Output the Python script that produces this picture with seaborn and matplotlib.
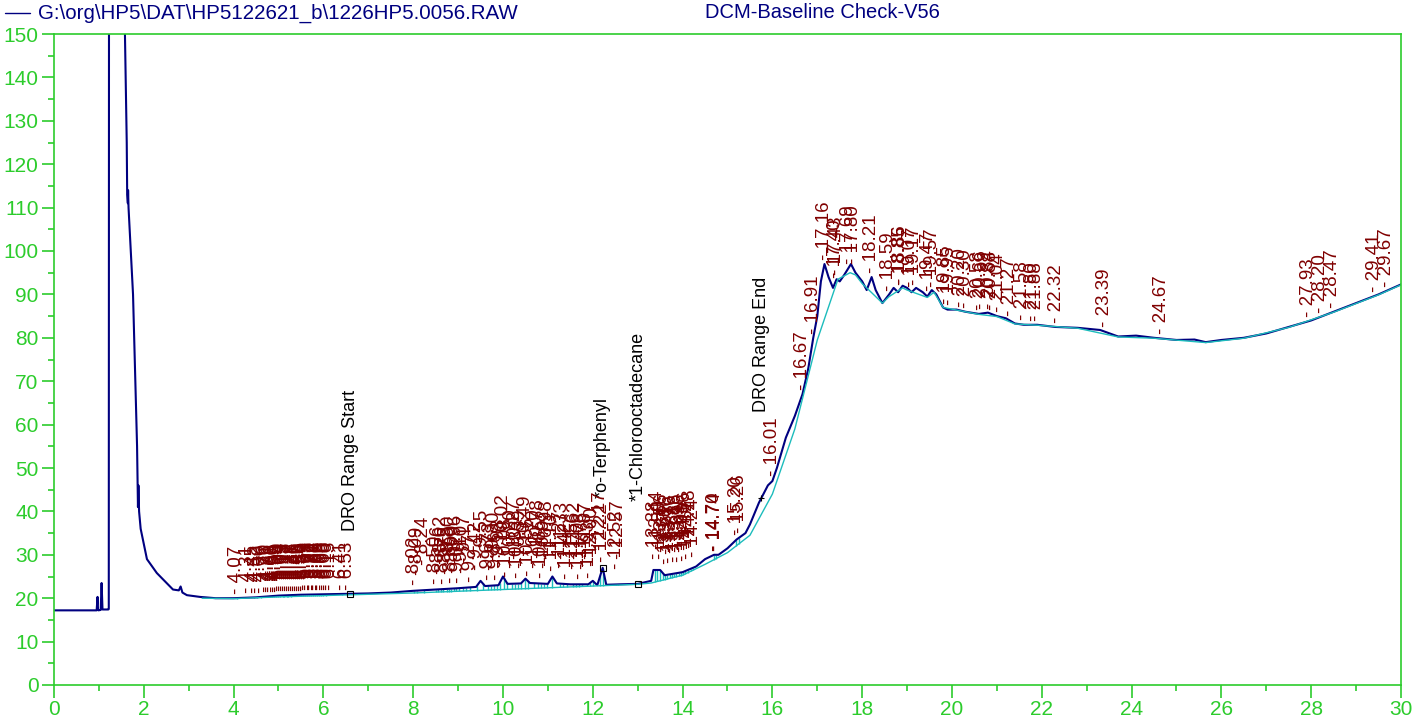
import numpy as np
import pandas as pd
import seaborn as sns
import matplotlib.pyplot as plt
from matplotlib.lines import Line2D
from matplotlib.ticker import MultipleLocator

# detector trace (time in min, response)
trace_t = [0.0, 0.95, 0.97, 0.98, 0.99, 1.04, 1.06, 1.08, 1.21, 1.22, 1.225, 1.40, 1.58,
           1.62, 1.63, 1.645, 1.65, 1.66, 1.76, 1.85, 1.87, 1.88, 1.895, 1.93, 2.07, 2.29,
           2.65, 2.78, 2.82, 2.86, 2.96, 3.25, 3.6, 4.0, 4.5, 5.0, 5.5, 6.0, 6.6, 7.0, 7.5,
           8.0, 8.5, 9.0, 9.4, 9.5, 9.6, 9.9, 10.0, 10.1, 10.4, 10.5, 10.6, 11.0, 11.1,
           11.2, 11.5, 11.9, 12.0, 12.1, 12.22, 12.3, 12.6, 13.0, 13.3, 13.35, 13.5, 13.6,
           14.0, 14.3, 14.5, 14.7, 14.8, 15.0, 15.2, 15.4, 15.5, 15.7, 15.9, 16.0, 16.1,
           16.3, 16.5, 16.67, 16.8, 16.91, 17.0, 17.08, 17.16, 17.25, 17.35, 17.43, 17.5,
           17.6, 17.75, 17.85, 18.0, 18.1, 18.21, 18.3, 18.45, 18.6, 18.7, 18.8, 18.9,
           19.0, 19.1, 19.2, 19.35, 19.45, 19.55, 19.65, 19.8, 19.9, 20.1, 20.3, 20.6,
           20.8, 21.0, 21.2, 21.4, 21.6, 21.9, 22.3, 22.8, 23.3, 23.7, 24.1, 24.5, 25.0,
           25.4, 25.65, 26.0, 26.5, 27.0, 27.5, 28.0, 28.5, 29.0, 29.5, 30.0]
trace_y = [17.2, 17.2, 20.3, 17.5, 17.2, 17.3, 23.5, 17.4, 17.4, 17.5, 160, 180, 150,
           125, 113, 111, 114, 110, 90, 55, 41, 46, 40, 36, 29, 25.8,
           22.0, 21.8, 22.7, 21.3, 20.7, 20.3, 20.0, 20.0, 20.2, 20.6, 20.8, 20.9, 21.0, 21.1, 21.3,
           21.7, 22.0, 22.3, 22.6, 24.0, 22.8, 23.0, 25.0, 23.3, 23.4, 24.5, 23.5, 23.3, 25.0,
           23.4, 23.2, 23.2, 24.0, 23.0, 27.0, 23.1, 23.2, 23.3, 24.0, 26.5, 26.5, 25.3,
           26.0, 27.3, 29.0, 30.0, 30.0, 31.5, 33.5, 35.0, 37.0, 42.0, 46.0, 47.0, 50.0,
           57.0, 62.0, 67.0, 73.0, 80.0, 85.0, 93.0, 97.0, 94.0, 91.5, 93.5, 93.0,
           94.5, 97.0, 95.0, 93.0, 91.0, 94.0, 91.0, 88.0, 90.0, 91.5, 90.5, 92.0,
           91.5, 90.5, 91.5, 90.5, 89.5, 91.0, 90.0, 87.0, 86.5, 86.5, 86.0, 85.5,
           85.8, 85.0, 84.5, 83.3, 83.0, 83.0, 82.5, 82.3, 81.8, 80.3, 80.5, 80.0, 79.5,
           79.6, 79.0, 79.5, 80.0, 81.0, 82.5, 84.0, 86.0, 88.0, 90.0, 92.3]

# integration baseline
base_t = [3.3, 4.0, 5.0, 6.0, 7.0, 8.0, 9.0, 10.0, 11.0, 12.0, 13.0, 13.3, 14.0, 14.5,
          15.0, 15.5, 16.0, 16.5, 17.0, 17.46, 17.73, 17.85, 18.0, 18.45, 18.6, 18.9,
          19.0, 19.45, 19.6, 19.8, 20.1, 20.6, 21.0, 21.4, 21.9, 22.8, 23.7, 24.5, 25.65,
          26.5, 27.5, 28.5, 29.5, 30.0]
base_y = [20.0, 19.9, 20.3, 20.6, 20.9, 21.2, 21.6, 22.0, 22.4, 22.8, 23.2, 23.5, 25.3, 27.8,
          30.5, 34.5, 44.0, 59.0, 79.5, 93.5, 95.0, 94.5, 92.5, 88.0, 89.5, 91.5,
          91.0, 89.3, 90.5, 87.0, 86.4, 85.4, 84.9, 83.2, 82.9, 82.2, 80.2, 79.9, 78.9,
          79.9, 82.4, 85.9, 89.9, 92.2]

# integrated peak retention times
early_peaks = [4.07, 4.31, 4.45, 4.52, 4.60, 4.70, 4.76, 4.81, 4.86, 4.90, 4.95, 5.00,
               5.04, 5.09, 5.13, 5.18, 5.22, 5.27, 5.31, 5.36, 5.40, 5.45, 5.50, 5.54,
               5.59, 5.63, 5.68, 5.72, 5.77, 5.81, 5.86, 5.90, 5.95, 6.00, 6.05, 6.10,
               6.15, 6.41, 6.53]
mid_peaks = [8.02, 8.09, 8.24, 8.50, 8.56, 8.62, 8.67, 8.75, 8.80, 8.85, 8.90, 8.96, 9.02,
             9.10, 9.17, 9.27, 9.42, 9.55, 9.67, 9.73, 9.80, 9.86, 9.93, 10.02, 10.08,
             10.20, 10.27, 10.33, 10.39, 10.49, 10.56, 10.70, 10.78, 10.85, 10.92, 10.98,
             11.10, 11.27, 11.33, 11.42, 11.56, 11.62, 11.70, 11.76, 11.87, 11.93, 12.00,
             12.17, 12.22, 12.52, 12.57]
cluster_peaks = [13.38, 13.44, 13.50, 13.56, 13.61, 13.66, 13.71, 13.76, 13.81, 13.86,
                 13.91, 13.96, 14.01, 14.06, 14.12, 14.18, 14.24]
late_peaks = [14.70, 14.74, 15.20, 15.26, 16.01, 16.67, 16.91, 17.16, 17.40, 17.43, 17.69,
              17.80, 18.21, 18.59, 18.85, 18.86, 19.07, 19.17, 19.47, 19.57, 19.85, 19.95,
              20.20, 20.30, 20.58, 20.66, 20.84, 20.88, 21.04, 21.27, 21.58, 21.80, 21.88,
              22.32, 23.39, 24.67, 27.93, 28.20, 28.47, 29.41, 29.67]

event_names = ['DRO Range Start', '*o-Terphenyl', '*1-Chlorooctadecane', 'DRO Range End']
event_times = [6.6, 12.22, 13.0, 15.75]

file_name = 'G:\\org\\HP5\\DAT\\HP5122621_b\\1226HP5.0056.RAW'
sample_name = 'DCM-Baseline Check-V56'

GREEN = '#2ccc2c'
NAVY = '#000080'
CYAN = '#1cbcbc'
RED = '#800000'

sns.set_style('white')
plt.rcParams['font.family'] = ['Liberation Sans', 'DejaVu Sans']

fig = plt.figure(figsize=(14.24, 7.24), dpi=100)
ax = fig.add_axes([54 / 1424, 39 / 724, 1347 / 1424, 651 / 724])

trace = pd.DataFrame({'time': trace_t, 'signal': trace_y})
base = pd.DataFrame({'time': base_t, 'signal': base_y})

sns.lineplot(data=trace, x='time', y='signal', ax=ax, color=NAVY, lw=1.5,
             estimator=None, sort=False)
sns.lineplot(data=base, x='time', y='signal', ax=ax, color=CYAN, lw=1.0,
             estimator=None, sort=False)

# drop lines from baseline to peak
all_peaks = np.array(early_peaks + mid_peaks + cluster_peaks + late_peaks)
drops = all_peaks[all_peaks < 16]
ax.vlines(drops, np.interp(drops, base_t, base_y), np.interp(drops, trace_t, trace_y),
          color=CYAN, lw=1.0, zorder=1)


def label_peaks(times, lift):
    for i, t in enumerate(times):
        ax.annotate(f'- {t:.2f}', xy=(t, np.interp(t, trace_t, trace_y)),
                    xytext=(0, lift(i)), textcoords='offset points',
                    rotation=90, ha='center', va='bottom', fontsize=13.5,
                    color=RED, zorder=4)


label_peaks(early_peaks, lambda i: 3)
label_peaks(mid_peaks, lambda i: 4 + 7 * (i % 3))
label_peaks(cluster_peaks, lambda i: 8 + 7 * (i % 2))
label_peaks(late_peaks, lambda i: 3)

# named events
event_lift = [45, 50, 60, 62]
event_marks = ['s', 's', 's', '+']
for name, t, lift, mk in zip(event_names, event_times, event_lift, event_marks):
    y = np.interp(t, trace_t, trace_y)
    ax.plot([t], [y], marker=mk, ms=5, mfc='none', mec='black', mew=0.8, zorder=5)
    ax.annotate(name, xy=(t, y), xytext=(0, lift), textcoords='offset points',
                rotation=90, ha='center', va='bottom', fontsize=13, color='black')

ax.set_xlim(0, 30)
ax.set_ylim(0, 150)
ax.set_xlabel('')
ax.set_ylabel('')
ax.xaxis.set_major_locator(MultipleLocator(2))
ax.xaxis.set_minor_locator(MultipleLocator(1))
ax.yaxis.set_major_locator(MultipleLocator(10))
ax.yaxis.set_minor_locator(MultipleLocator(5))
ax.tick_params(which='major', direction='out', length=9, width=1.2, colors=GREEN,
               labelsize=15, pad=2, bottom=True, left=True)
ax.tick_params(which='minor', direction='out', length=4, width=1.2, colors=GREEN,
               bottom=True, left=True)
for sp in ax.spines.values():
    sp.set_color(GREEN)
    sp.set_linewidth(1.2)
ax.grid(False)

# header line
hy = 1 - 13 / 724
fig.add_artist(Line2D([5 / 1424, 30 / 1424], [hy, hy], color=NAVY, lw=1.0))
fig.text(38 / 1424, hy, file_name, va='center', ha='left', color=NAVY, fontsize=14.8)
fig.text(705 / 1424, hy, sample_name, va='center', ha='left', color=NAVY, fontsize=14.5)

fig.savefig('out.png', dpi=100)
